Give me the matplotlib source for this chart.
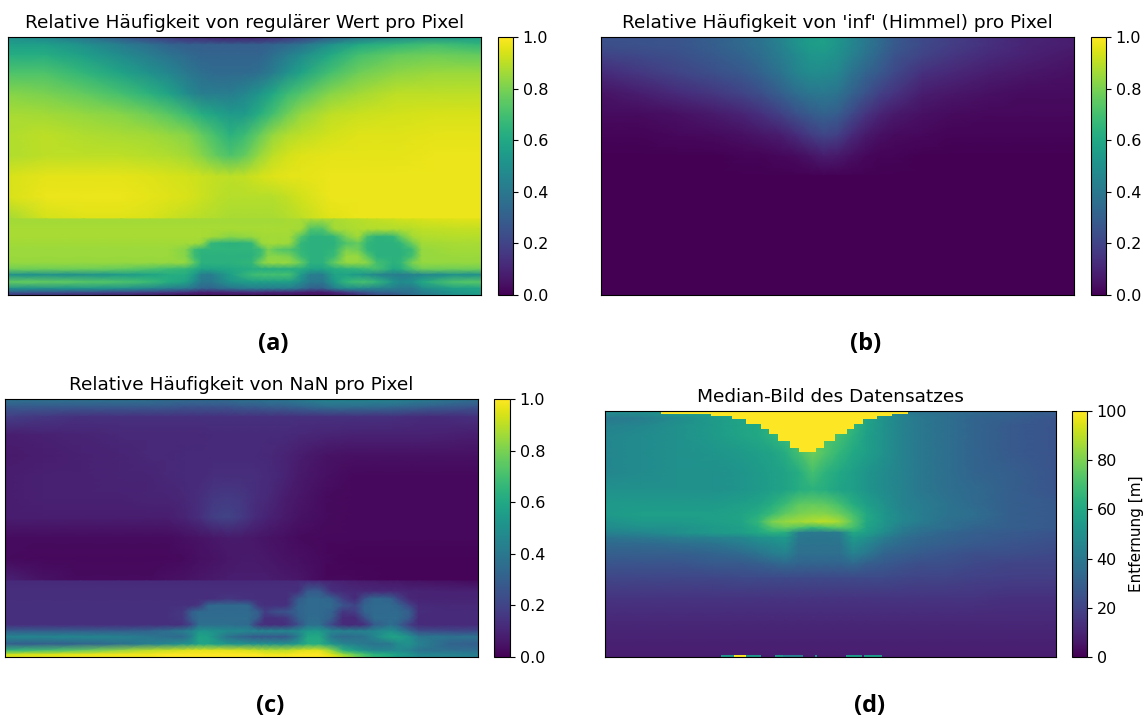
import numpy as np
import matplotlib
matplotlib.use('Agg')
import matplotlib.pyplot as plt

# positions in the picture as fractions of width / height, values read by eye
# the three share plots have a hard edge at the horizon, so upper and lower part are separate grids
x_upper = [0, .08, .16, .24, .30, .34, .38, .41, .44, .47, .50, .53, .56, .59, .62, .68, .74, .82, .90, 1]
y_upper = [0, .03, .07, .14, .22, .30, .38, .46, .54, .62, .705]
x_lower = [0, .08, .16, .24, .30, .34, .375, .395, .41, .43, .47, .515, .535, .55, .57, .595, .62, .64, .665, .69,
           .715, .74, .76, .78, .815, .83, .855, .875, .94, 1]
y_lower = [.705, .745, .775, .80, .825, .85, .875, .90, .922, .95, .975, .99, 1]

regular_upper = [
    [50, 46, 38, 28, 20, 16, 12, 10, 8, 7, 7, 8, 10, 14, 18, 28, 38, 46, 50, 55],
    [56, 56, 50, 42, 36, 32, 30, 30, 30, 30, 30, 30, 32, 34, 38, 50, 60, 66, 70, 66],
    [62, 62, 56, 48, 42, 38, 34, 32, 32, 32, 32, 32, 36, 42, 48, 60, 70, 76, 78, 76],
    [72, 72, 66, 58, 50, 46, 40, 36, 34, 34, 34, 36, 42, 50, 58, 70, 78, 83, 85, 85],
    [82, 80, 76, 70, 64, 58, 48, 42, 42, 42, 46, 52, 60, 68, 73, 82, 86, 90, 90, 90],
    [87, 86, 84, 82, 78, 74, 68, 62, 58, 54, 54, 62, 70, 78, 84, 90, 92, 93, 94, 94],
    [88, 90, 88, 87, 86, 84, 82, 76, 70, 64, 68, 76, 84, 88, 90, 93, 95, 95, 96, 96],
    [88, 90, 90, 90, 89, 88, 86, 82, 76, 72, 76, 84, 90, 93, 95, 96, 96, 96, 97, 97],
    [94, 96, 96, 96, 95, 94, 93, 92, 91, 90, 91, 93, 95, 96, 96, 97, 97, 97, 97, 97],
    [94, 97, 97, 97, 96, 95, 94, 92, 90, 89, 89, 89, 89, 91, 93, 97, 97, 97, 97, 97],
    [86, 93, 95, 95, 94, 92, 90, 89, 88, 87, 87, 87, 87, 88, 90, 95, 97, 97, 97, 97],
]
regular_lower = [
    [86, 86, 86, 86, 86, 86, 86, 86, 86, 86, 86, 86, 86, 86, 86, 87, 87, 87, 87, 87, 88, 89, 90, 91, 92, 93, 93, 94, 95, 95],
    [87, 87, 87, 87, 87, 87, 87, 87, 87, 87, 87, 87, 87, 87, 87, 87, 86, 72, 72, 86, 87, 88, 88, 88, 88, 88, 89, 90, 91, 91],
    [87, 87, 87, 87, 87, 87, 87, 87, 87, 86, 82, 84, 86, 86, 86, 86, 72, 64, 64, 66, 80, 86, 70, 64, 66, 76, 86, 88, 89, 89],
    [86, 86, 86, 86, 86, 86, 86, 86, 84, 66, 64, 66, 84, 86, 86, 85, 66, 64, 64, 64, 72, 76, 66, 64, 64, 66, 78, 86, 87, 87],
    [85, 85, 85, 85, 85, 85, 82, 68, 65, 65, 65, 65, 68, 80, 74, 72, 66, 64, 64, 66, 80, 78, 66, 64, 64, 64, 68, 84, 86, 86],
    [85, 85, 85, 85, 85, 85, 82, 68, 64, 64, 64, 64, 70, 82, 82, 80, 68, 64, 64, 68, 84, 84, 74, 64, 64, 64, 70, 84, 85, 85],
    [84, 84, 84, 84, 84, 84, 84, 74, 64, 64, 64, 66, 80, 84, 84, 84, 76, 64, 64, 76, 84, 84, 82, 70, 64, 66, 80, 84, 84, 84],
    [78, 78, 78, 76, 72, 68, 66, 62, 58, 58, 60, 62, 62, 62, 62, 62, 62, 58, 58, 62, 64, 66, 68, 70, 60, 62, 72, 78, 78, 78],
    [50, 50, 50, 54, 58, 62, 62, 54, 42, 42, 56, 68, 70, 70, 70, 70, 54, 42, 42, 58, 58, 54, 50, 46, 42, 42, 44, 46, 50, 50],
    [76, 76, 74, 72, 68, 62, 58, 48, 40, 40, 52, 56, 56, 56, 56, 56, 48, 40, 40, 54, 66, 70, 70, 66, 52, 48, 50, 60, 72, 74],
    [50, 50, 52, 50, 46, 42, 40, 36, 32, 32, 38, 42, 42, 42, 42, 42, 36, 30, 30, 42, 48, 48, 46, 44, 42, 40, 40, 48, 56, 58],
    [30, 28, 25, 22, 20, 18, 16, 12, 10, 10, 12, 14, 14, 12, 12, 12, 10, 8, 8, 12, 18, 24, 28, 32, 34, 36, 38, 42, 52, 58],
    [15, 14, 12, 10, 8, 6, 5, 5, 5, 5, 5, 5, 5, 5, 5, 5, 5, 5, 5, 6, 8, 14, 18, 24, 26, 30, 36, 40, 50, 54],
]

nan_upper = [
    [38, 38, 38, 38, 38, 36, 36, 36, 36, 36, 38, 38, 40, 40, 42, 46, 46, 46, 42, 36],
    [28, 28, 28, 28, 28, 28, 26, 26, 26, 26, 28, 28, 30, 30, 32, 36, 36, 34, 30, 26],
    [18, 16, 14, 14, 14, 14, 14, 14, 14, 14, 14, 14, 14, 14, 14, 14, 14, 14, 12, 14],
    [8, 9, 10, 11, 11, 11, 11, 11, 12, 12, 12, 12, 12, 12, 11, 10, 9, 9, 9, 8],
    [7, 8, 9, 10, 11, 11, 12, 12, 12, 12, 12, 12, 11, 10, 8, 5, 4, 4, 4, 4],
    [8, 9, 9, 10, 10, 11, 12, 12, 13, 13, 13, 13, 12, 10, 7, 4, 2, 2, 2, 2],
    [8, 9, 9, 9, 10, 10, 11, 13, 16, 17, 16, 13, 11, 8, 6, 3, 2, 2, 2, 2],
    [8, 8, 8, 8, 8, 8, 10, 13, 18, 20, 17, 12, 9, 7, 5, 3, 2, 2, 2, 2],
    [3, 3, 3, 3, 3, 3, 4, 5, 6, 7, 7, 6, 5, 4, 3, 2, 2, 2, 2, 2],
    [3, 2, 2, 2, 2, 2, 3, 4, 5, 6, 7, 7, 6, 5, 4, 2, 1, 1, 1, 1],
    [10, 5, 3, 3, 3, 4, 5, 6, 7, 8, 8, 8, 8, 7, 6, 2, 2, 1, 1, 1],
]
nan_lower = [
    [12, 12, 12, 12, 12, 12, 12, 12, 12, 12, 12, 12, 12, 12, 12, 12, 12, 12, 11, 10, 9, 8, 7, 7, 6, 6, 5, 5, 4, 3],
    [13, 13, 13, 13, 13, 13, 13, 13, 13, 13, 13, 13, 13, 13, 13, 13, 14, 28, 28, 14, 12, 11, 11, 11, 11, 11, 10, 10, 9, 9],
    [13, 13, 13, 13, 13, 13, 13, 13, 13, 13, 16, 14, 13, 13, 13, 13, 28, 34, 34, 32, 18, 12, 26, 34, 32, 22, 11, 10, 10, 10],
    [14, 14, 14, 14, 14, 14, 14, 14, 16, 33, 34, 33, 16, 14, 14, 14, 32, 34, 34, 34, 26, 20, 32, 34, 34, 32, 20, 12, 11, 11],
    [14, 14, 14, 14, 14, 14, 16, 30, 34, 34, 34, 34, 30, 18, 24, 26, 32, 34, 34, 32, 16, 18, 32, 34, 34, 34, 30, 13, 12, 12],
    [14, 14, 14, 14, 14, 14, 16, 30, 35, 35, 35, 35, 28, 14, 14, 16, 30, 35, 35, 30, 12, 12, 24, 35, 35, 35, 28, 12, 12, 12],
    [14, 14, 14, 14, 14, 14, 14, 22, 36, 36, 36, 34, 16, 13, 13, 14, 24, 36, 36, 22, 12, 12, 14, 28, 36, 32, 18, 12, 12, 12],
    [30, 30, 30, 30, 32, 36, 42, 46, 52, 52, 48, 46, 46, 46, 46, 46, 48, 54, 54, 46, 44, 44, 44, 46, 50, 46, 34, 24, 22, 22],
    [46, 46, 46, 44, 40, 36, 34, 44, 58, 56, 38, 30, 28, 28, 28, 28, 42, 60, 60, 40, 34, 36, 38, 46, 58, 58, 50, 40, 38, 38],
    [30, 30, 32, 36, 42, 46, 50, 52, 58, 58, 52, 50, 50, 50, 50, 50, 54, 62, 62, 52, 46, 42, 40, 38, 40, 48, 50, 44, 32, 30],
    [66, 70, 76, 84, 90, 92, 94, 96, 96, 96, 96, 94, 92, 90, 90, 90, 94, 96, 96, 84, 64, 56, 50, 46, 46, 48, 44, 38, 36, 36],
    [92, 94, 96, 98, 98, 100, 100, 100, 100, 100, 100, 100, 100, 98, 98, 98, 100, 100, 100, 94, 84, 76, 70, 64, 60, 56, 52, 46, 44, 42],
    [95, 96, 98, 98, 98, 100, 100, 100, 100, 100, 100, 100, 100, 100, 100, 100, 100, 100, 100, 98, 90, 80, 72, 66, 60, 54, 50, 46, 44, 42],
]

y_inf = [0, .03, .07, .14, .22, .30, .38, .46, .54, 1]
inf_share = [
    [25, 25, 26, 30, 34, 38, 45, 50, 55, 56, 52, 46, 40, 34, 28, 22, 18, 14, 10, 8],
    [24, 25, 26, 30, 34, 38, 44, 50, 55, 56, 52, 46, 40, 34, 28, 22, 18, 14, 10, 8],
    [20, 22, 24, 28, 32, 36, 42, 47, 52, 53, 50, 44, 38, 32, 26, 20, 16, 12, 9, 6],
    [12, 16, 20, 24, 27, 32, 38, 44, 48, 48, 46, 38, 32, 27, 22, 14, 11, 8, 6, 4],
    [5, 8, 12, 16, 20, 24, 30, 35, 39, 40, 38, 31, 25, 19, 15, 8, 6, 4, 3, 3],
    [3, 3, 4, 7, 10, 14, 19, 24, 28, 31, 29, 22, 15, 10, 7, 4, 3, 2, 2, 2],
    [1, 1, 2, 3, 4, 6, 8, 12, 17, 21, 19, 12, 7, 4, 3, 2, 1, 1, 1, 1],
    [0, 0, 0, 0, 1, 1, 2, 3, 5, 8, 7, 4, 2, 1, 1, 0, 0, 0, 0, 0],
    [0, 0, 0, 0, 0, 0, 0, 0, 0, 0, 0, 0, 0, 0, 0, 0, 0, 0, 0, 0],
    [0, 0, 0, 0, 0, 0, 0, 0, 0, 0, 0, 0, 0, 0, 0, 0, 0, 0, 0, 0],
]

x_median = [0, .08, .16, .24, .30, .34, .37, .40, .43, .46, .49, .52, .55, .58, .62, .66, .70, .76, .82, .90, 1]
y_median = [0, .03, .06, .1, .17, .25, .32, .38, .42, .45, .475, .495, .515, .54, .58, .62, .68, .76, .85, .93, 1]
median = [
    [50, 50, 55, 58, 60, 60, 60, 62, 62, 62, 62, 62, 60, 55, 50, 42, 38, 36, 34, 32, 30],
    [40, 42, 48, 54, 58, 60, 62, 66, 70, 70, 70, 70, 66, 58, 50, 44, 40, 36, 32, 30, 26],
    [44, 46, 50, 54, 58, 60, 64, 70, 72, 72, 72, 72, 66, 58, 50, 44, 40, 36, 32, 28, 26],
    [46, 48, 50, 54, 58, 60, 64, 68, 72, 72, 72, 70, 64, 56, 50, 44, 40, 36, 32, 28, 26],
    [46, 48, 50, 52, 54, 56, 58, 62, 70, 78, 72, 66, 60, 56, 50, 44, 40, 36, 32, 28, 26],
    [46, 48, 50, 50, 52, 54, 56, 58, 62, 70, 64, 60, 56, 52, 48, 44, 40, 36, 32, 30, 26],
    [50, 50, 50, 50, 52, 54, 56, 58, 62, 64, 62, 58, 56, 52, 48, 44, 40, 36, 34, 30, 26],
    [54, 54, 54, 54, 56, 58, 62, 68, 75, 76, 75, 70, 62, 56, 50, 44, 42, 38, 34, 30, 28],
    [54, 56, 56, 56, 58, 62, 68, 76, 80, 82, 82, 78, 70, 60, 52, 46, 42, 38, 36, 30, 28],
    [50, 54, 54, 56, 58, 66, 80, 84, 86, 88, 90, 86, 74, 60, 52, 46, 42, 36, 34, 30, 28],
    [48, 50, 50, 54, 56, 62, 72, 76, 72, 66, 70, 74, 70, 58, 50, 42, 38, 36, 32, 30, 28],
    [44, 46, 50, 54, 56, 60, 64, 62, 42, 40, 40, 42, 60, 56, 48, 40, 36, 32, 30, 28, 26],
    [38, 40, 42, 44, 46, 50, 52, 54, 40, 39, 39, 40, 54, 50, 42, 36, 33, 31, 29, 27, 25],
    [34, 34, 36, 38, 42, 46, 48, 50, 38, 38, 38, 38, 50, 46, 38, 34, 32, 30, 28, 26, 24],
    [30, 30, 30, 32, 34, 38, 42, 44, 36, 36, 36, 36, 44, 40, 32, 30, 28, 26, 24, 24, 22],
    [26, 26, 26, 28, 28, 30, 32, 34, 32, 32, 32, 32, 34, 30, 28, 26, 24, 24, 22, 20, 20],
    [21, 21, 21, 21, 22, 22, 22, 22, 22, 22, 22, 22, 22, 22, 22, 21, 20, 20, 19, 18, 18],
    [15, 15, 15, 15, 15, 15, 15, 15, 15, 15, 15, 15, 15, 15, 15, 15, 15, 15, 15, 14, 14],
    [11, 11, 11, 11, 11, 11, 11, 11, 11, 11, 11, 11, 11, 11, 11, 11, 11, 11, 11, 11, 11],
    [9, 9, 9, 9, 9, 9, 9, 9, 9, 9, 9, 9, 9, 9, 9, 9, 9, 9, 9, 9, 9],
    [8, 8, 8, 8, 8, 8, 8, 8, 8, 8, 8, 8, 8, 8, 8, 8, 8, 8, 8, 8, 8],
]

# yellow wedge at the top of the median image (pixels that are 'inf')
inf_x = [.124, .234, .282, .313, .345, .364, .384, .411, .431, .467, .486, .51, .537, .553, .573, .604, .636, .671]
inf_depth = [.011, .02, .034, .054, .075, .095, .122, .15, .166, .15, .122, .095, .075, .054, .034, .02, .011, 0]

# short coloured pieces on the bottom edge of the median image
seg_left = [.257, .285, .313, .376, .395, .465, .535, .575]
seg_width = [.028, .028, .033, .019, .045, .005, .035, .04]
seg_value = [52, 100, 52, 52, 42, 52, 54, 54]

W, H = 1146, 719


def panel(box, cbar, grids, title, vmax=1.0, ticks=None):
    x0, y0, x1, y1 = box
    ax = fig.add_axes([x0 / W, 1 - y1 / H, (x1 - x0) / W, (y1 - y0) / H])
    for xs, ys, Z in grids:
        mesh = ax.pcolormesh(xs, ys, np.array(Z) / 100 * vmax, shading='gouraud',
                             cmap='viridis', vmin=0, vmax=vmax)
    ax.set_xlim(0, 1)
    ax.set_ylim(1, 0)
    ax.set_xticks([])
    ax.set_yticks([])
    ax.set_title(title, fontsize=13.3, pad=6.5)
    cx0, cx1 = cbar
    cax = fig.add_axes([cx0 / W, 1 - y1 / H, (cx1 - cx0) / W, (y1 - y0) / H])
    cb = fig.colorbar(mesh, cax=cax, ticks=ticks)
    cb.ax.tick_params(labelsize=11.5)
    return ax, cb


fig = plt.figure(figsize=(W / 100, H / 100), dpi=100)

ticks01 = [0, .2, .4, .6, .8, 1]
panel((8, 37, 481, 295), (498, 513), [(x_upper, y_upper, regular_upper), (x_lower, y_lower, regular_lower)],
      'Relative Häufigkeit von regulärer Wert pro Pixel', ticks=ticks01)
panel((601, 37, 1074, 295), (1091, 1106), [(x_upper, y_inf, inf_share)],
      "Relative Häufigkeit von 'inf' (Himmel) pro Pixel", ticks=ticks01)
panel((5, 399, 478, 657), (494, 510), [(x_upper, y_upper, nan_upper), (x_lower, y_lower, nan_lower)],
      'Relative Häufigkeit von NaN pro Pixel', ticks=ticks01)
ax_d, cb_d = panel((605, 411, 1056, 657), (1072, 1087), [(x_median, y_median, median)],
                   'Median-Bild des Datensatzes', vmax=100, ticks=[0, 20, 40, 60, 80, 100])
cb_d.set_label('Entfernung [m]', fontsize=11, labelpad=1)

cmap = plt.get_cmap('viridis')
ax_d.fill_between(inf_x, 0, inf_depth, step='post', color=cmap(1.0), lw=0)
ax_d.barh([.995] * len(seg_left), seg_width, left=seg_left, height=.01,
          color=[cmap(v / 100) for v in seg_value])

for label, x, y in [('(a)', 273, 344), ('(b)', 866, 344), ('(c)', 270, 706), ('(d)', 870, 706)]:
    fig.text(x / W, 1 - y / H, label, fontsize=17, fontweight='bold', family='Open Sans',
             ha='center', va='center')

fig.savefig('out.png', dpi=100)
